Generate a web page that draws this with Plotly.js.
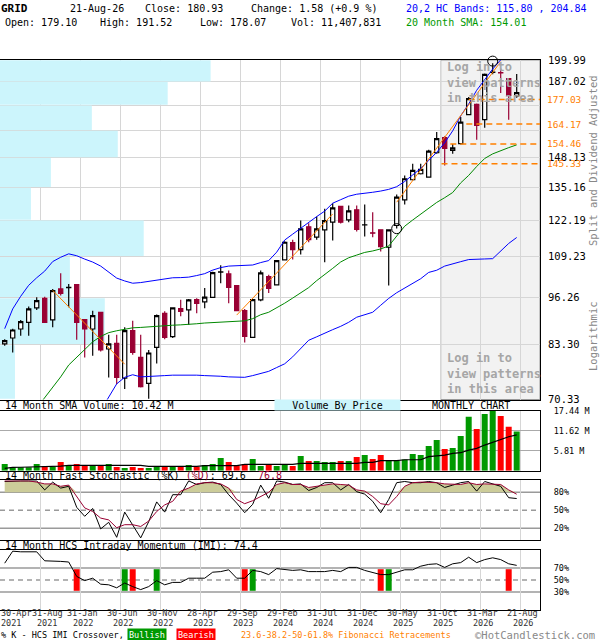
<!DOCTYPE html>
<html><head><meta charset="utf-8">
<script src="https://cdn.plot.ly/plotly-3.0.1.min.js"></script>
<style>html,body{margin:0;padding:0;background:#fff}#chart{width:600px;height:640px}</style>
</head><body><div id="chart"></div>
<script>
// ---------- DATA ----------
const monthIndex = Array.from({length: 65}, (_, i) => i); // Apr-2021 ... Aug-2026
const open = [83.44,84.99,87.38,89.18,93.23,96.03,89.84,98.85,99.25,100.18,
  89.92,87.38,91.97,82.16,83.59,75.13,86.92,80.06,73.89,82.56,
  91.69,85.34,93.03,92.65,95.64,94.96,96.33,104.10,103.53,99.87,
  92.45,85.15,95.55,102.68,100.09,108.10,114.01,111.58,119.68,115.90,
  118.57,121.38,127.41,122.28,126.10,120.35,117.48,118.57,112.38,120.16,
  130.05,138.32,140.91,139.44,150.33,157.45,151.39,154.57,169.03,174.48,
  166.43,192.56,192.40,188.86,179.10];
const high = [84.68,87.46,89.84,93.61,96.33,96.53,98.85,103.72,100.39,100.30,
  90.00,92.45,92.00,85.86,85.86,87.82,89.64,85.86,81.90,91.33,
  92.25,93.40,95.64,95.85,96.06,99.15,104.20,106.32,104.58,100.00,
  92.94,95.70,104.58,103.22,107.95,114.47,114.96,122.01,121.01,123.54,
  126.50,128.71,127.69,127.80,127.80,128.19,125.18,118.65,118.65,132.21,
  140.18,145.33,145.33,151.72,160.20,158.10,154.46,167.78,178.45,174.86,
  191.80,198.00,194.77,189.00,191.52];
const low = [83.00,81.30,85.60,85.60,92.65,89.00,87.82,96.83,93.40,84.54,
  80.06,80.48,81.55,75.27,73.75,72.62,80.73,73.00,70.49,78.59,
  84.65,84.99,90.85,88.55,91.69,93.12,96.20,100.58,94.56,92.30,
  83.84,85.00,95.20,97.64,99.95,107.86,108.20,109.88,114.12,114.96,
  107.30,114.71,120.90,121.38,117.95,116.15,115.90,110.89,99.87,119.05,
  128.19,138.02,140.61,139.18,149.87,144.57,149.90,154.24,168.66,156.48,
  162.39,191.39,180.67,166.43,178.07];
const close = [84.28,87.11,89.37,92.94,95.34,89.18,98.33,97.52,99.34,89.18,
  87.38,91.05,81.90,83.44,75.27,86.92,81.30,73.14,81.15,91.05,
  85.15,93.23,92.25,95.55,94.56,96.36,103.95,104.17,99.35,92.45,
  85.42,95.64,103.85,99.04,107.86,114.12,111.58,118.94,115.07,118.94,
  122.01,126.89,121.38,125.71,118.68,120.42,117.34,112.62,118.57,131.11,
  138.75,142.34,142.79,151.07,156.97,152.34,152.60,165.21,177.57,163.55,
  191.39,192.74,192.17,179.35,180.93];
const upperBand = [87.46,92.94,96.63,99.96,102.3,104.42,107.53,108.97,110.12,109.48,
  108.36,107.37,106.05,104.1,102.2,101.3,100.6,100.8,101.2,101.5,
  102.0,102.3,102.35,102.5,103.0,103.6,104.74,105.56,106.05,106.21,
  106.2,106.4,107.2,107.86,110.7,114.9,117.0,119.2,121.2,123.5,
  125.6,128.7,130.1,131.5,132.3,132.6,133.1,133.6,134.3,135.4,
  137.6,140.4,143.2,146.8,150.5,155.0,160.8,168.4,174.7,182.2,
  188.4,194.5,200.1,203.0,204.84];
const lowerBand = [null,null,null,null,null,null,null,null,null,null,
  null,null,68.0,70.8,73.8,75.3,75.9,75.4,75.55,75.7,
  75.7,75.8,75.85,75.85,75.8,75.7,75.7,75.55,75.4,75.3,
  75.3,75.7,76.2,76.7,77.6,78.5,80.2,82.2,84.4,85.3,
  86.3,87.2,88.1,89.2,90.6,91.3,92.0,94.0,96.0,97.7,
  99.2,100.6,102.0,104.0,104.7,106.05,106.9,107.5,108.2,108.4,
  108.4,108.5,111.1,113.7,115.80];
const sma20 = [null,null,null,null,68.5,70.71,72.8,75.4,78.2,80.1,
  82.2,84.0,85.4,86.4,86.9,87.4,87.7,87.8,88.0,88.2,
  88.3,88.4,88.5,88.55,88.8,89.0,89.1,89.3,89.4,89.5,
  89.6,90.2,91.3,92.0,93.2,94.6,96.1,97.7,99.25,101.4,
  103.2,105.3,107.4,108.8,109.7,110.6,111.1,111.8,112.8,116.5,
  119.9,122.2,124.5,126.9,129.0,130.9,133.0,137.0,140.2,144.1,
  147.7,149.8,151.4,152.7,154.01];
const volumeM = [1.94,0.97,0.97,0.97,1.94,1.36,1.16,2.52,1.65,1.94,
  1.55,1.55,1.55,1.94,1.07,0.77,1.07,0.77,0.77,1.16,
  1.16,1.16,1.16,1.65,1.16,1.65,1.94,3.68,2.52,1.55,
  1.94,3.39,1.36,1.74,1.36,1.74,1.36,4.26,2.81,2.81,
  2.52,2.52,2.81,2.81,3.97,4.55,3.39,4.55,2.90,2.90,
  3.29,4.84,4.55,7.17,8.91,6.29,6.58,10.07,15.69,12.10,
  16.46,17.40,15.88,12.78,11.41];
const volumeSmaM = [0.68,0.97,1.00,1.05,1.10,1.16,1.25,1.35,1.55,1.55,
  1.55,1.55,1.55,1.55,1.55,1.55,1.55,1.55,1.26,1.26,
  1.26,1.26,1.26,1.26,1.26,1.50,1.50,1.50,1.50,1.50,
  1.84,1.84,1.84,1.84,1.84,1.84,1.84,2.13,2.13,2.13,
  2.13,2.13,2.13,2.13,2.13,2.42,2.42,2.90,2.90,2.90,
  3.19,3.19,3.19,4.07,4.30,4.55,5.03,5.23,6.00,6.49,
  7.45,8.23,9.10,9.87,10.42];
const stochK = [98,99,99,99,99,84,97,87,90,55,
  40,53,19,30,5,47,26,4,31,64,
  47,76,76,99,93,96,97,93,76,62,
  46,60,92,70,99,97,93,94,83,88,
  96,96,84,93,81,77,65,46,68,96,
  98,96,96,98,96,88,92,96,98,82,
  98,94,90,71,69.6];
const stochD = [99,99,99,99,97,94,94,90,92,73,
  54,48,37,34,21,26,26,23,32,48,
  59,65,82,87,94,96,96,94,87,68,
  61,66,73,80,93,96,93,93,88,90,
  92,94,93,92,84,82,73,61,59,73,
  90,96,97,97,96,94,93,93,96,93,
  94,94,93,84,76.8];
const imi = [78,98,97,97,97,82,82,81,80,56,
  49,53,43,42,37,45,39,34,39,49,
  42,46,46,53,53,53,63,64,67,53,
  53,66,64,59,69,67,66,67,64,64,
  64,66,64,71,71,66,62,59,59,63,
  67,67,73,76,77,71,77,79,88,79,
  84,87,84,77,74.4];
const crossIdx  = [9,15,16,19,30,31,47,48,63];
const crossType = ['Bearish','Bullish','Bearish','Bullish','Bearish','Bullish','Bearish','Bullish','Bearish'];
const priceTicks = [70.33,83.30,96.26,109.23,122.19,135.16,148.13,161.08,174.05,187.02,199.99];
const priceTickText = ['70.33','83.30','96.26','109.23','122.19','135.16','148.13','','','187.02','199.99'];
const vbpVolume = [15,105,70,144,31,51,118,92,168,211]; // relative volume per price bucket (bottom→top)
const fibLevels = [177.03,164.17,154.46,145.33];
const fibStart  = [58,57.7,55.7,54.6];
const trendX0 = [6,29,49], trendY0 = [98.4,91.2,129.1];
const trendX1 = [15,41,62], trendY1 = [78.4,124.5,199.0];
const circleIdx = [49,61], circlePrice = [119.0,199.3];
const patternStart = 54.5;
const dateLabelIdx = [0,4,9,14,19,24,29,34,39,44,49,54,59,64];
const dateMonths = ['30-Apr','31-Aug','31-Jan','30-Jun','30-Nov','28-Apr','29-Sep','29-Feb','31-Jul','31-Dec',
  '30-May','31-Oct','31-Mar','21-Aug'];
const dateYears = ['2021','2021','2022','2022','2022','2023','2023','2024','2024','2024','2025','2025','2026','2026'];
const volTicks = [5.81,11.62,17.44];
const stochLevels = [20,50,80];
const imiLevels = [30,50,70];

// ---------- STYLE / LAYOUT HELPERS ----------
const FONT = 'DejaVu Sans Mono';
const PX = x => x / 540;          // page px -> paper x
const PY = y => 1 - y / 640;      // page px -> paper y
const L10 = Math.log10;
const xRange = [-0.5875, 66.9125];
const gridPos = dateLabelIdx.slice(1).map(i => i + 0.5);
const RED = '#990033', ORANGE = '#ff8000';
const MAIN = 'y5'; // visible log price axis (overlays the hidden base axis that holds volume-by-price)

const traces = [];
// volume-by-price: horizontal bars on the base main subplot (log10-space y), drawn beneath the price overlay
const vMax = Math.max(...vbpVolume);
const xSpan = xRange[1] - xRange[0];
traces.push({type:'bar', orientation:'h',
  y: vbpVolume.map((v, k) => (L10(priceTicks[k]) + L10(priceTicks[k+1])) / 2),
  width: vbpVolume.map((v, k) => (L10(priceTicks[k+1]) - L10(priceTicks[k])) * 0.975),
  x: vbpVolume.map(v => v / vMax * 0.39 * xSpan), base: xRange[0],
  marker:{color:'#ccf5fc', line:{width:0}}, xaxis:'x', yaxis:'y', hoverinfo:'skip'});
// price overlay
traces.push({type:'candlestick', x: monthIndex, open, high, low, close, xaxis:'x', yaxis:MAIN,
  increasing:{line:{color:'#000', width:1.2}, fillcolor:'#ffffff'},
  decreasing:{line:{color:RED, width:1.2}, fillcolor:RED}, whiskerwidth:0, hoverinfo:'skip'});
traces.push({type:'scatter', mode:'lines', x: monthIndex, y: upperBand, line:{color:'#0000ff', width:1}, xaxis:'x', yaxis:MAIN});
traces.push({type:'scatter', mode:'lines', x: monthIndex, y: lowerBand, line:{color:'#0000ff', width:1}, xaxis:'x', yaxis:MAIN});
traces.push({type:'scatter', mode:'lines', x: monthIndex, y: sma20, line:{color:'#008800', width:1}, xaxis:'x', yaxis:MAIN});
for (let k = 0; k < trendX0.length; k++) {
  traces.push({type:'scatter', mode:'lines', x:[trendX0[k], trendX1[k]], y:[trendY0[k], trendY1[k]],
    line:{color:ORANGE, width:1}, xaxis:'x', yaxis:MAIN});
}
for (let k = 0; k < fibLevels.length; k++) {
  traces.push({type:'scatter', mode:'lines', x:[fibStart[k], xRange[1]], y:[fibLevels[k], fibLevels[k]],
    line:{color:ORANGE, width:1.5, dash:'6px,4px'}, xaxis:'x', yaxis:MAIN});
}
traces.push({type:'scatter', mode:'markers', x: circleIdx, y: circlePrice, cliponaxis:false,
  marker:{symbol:'circle-open', size:10, color:'#000', line:{width:1, color:'#000'}}, xaxis:'x', yaxis:MAIN});

// volume panel
const volColors = close.map((c, i) => (i === 0 || c >= close[i-1]) ? '#009900' : '#ff0000');
traces.push({type:'bar', x: monthIndex, y: volumeM, marker:{color: volColors, line:{width:0}}, width:0.75, xaxis:'x2', yaxis:'y2'});
traces.push({type:'scatter', mode:'lines', x: monthIndex, y: volumeSmaM, line:{color:'#000', width:1.2}, xaxis:'x2', yaxis:'y2'});

// stochastic panel
traces.push({type:'scatter', mode:'lines', x: monthIndex, y: monthIndex.map(() => 80), line:{width:0}, xaxis:'x3', yaxis:'y3'});
traces.push({type:'scatter', mode:'lines', x: monthIndex, y: stochD.map(v => Math.max(v, 80)), fill:'tonexty',
  fillcolor:'rgb(204,204,153)', line:{width:0}, xaxis:'x3', yaxis:'y3'});
traces.push({type:'scatter', mode:'lines', x: monthIndex, y: stochK, line:{color:'#000', width:1}, xaxis:'x3', yaxis:'y3'});
traces.push({type:'scatter', mode:'lines', x: monthIndex, y: stochD, line:{color:RED, width:1}, xaxis:'x3', yaxis:'y3'});

// IMI panel
traces.push({type:'bar', x: crossIdx, y: crossIdx.map(() => 36), base: 32, width:0.75,
  marker:{color: crossType.map(t => t === 'Bullish' ? '#009900' : '#ff0000'), line:{width:0}}, xaxis:'x4', yaxis:'y4'});
traces.push({type:'scatter', mode:'lines', x: monthIndex, y: imi, line:{color:'#000', width:1}, xaxis:'x4', yaxis:'y4'});

// ---------- AXES ----------
function xAxis(anchor) {
  return {domain:[0,1], range: xRange, anchor, tickvals: gridPos, showticklabels:false, ticks:'',
    showgrid:true, gridcolor:'#d6d6d6', gridwidth:1, zeroline:false, showline:true, mirror:true,
    linecolor:'#000', linewidth:1, fixedrange:true, rangeslider:{visible:false}};
}
function yAxis(anchor, domain, extra) {
  return Object.assign({domain, anchor, side:'right', ticks:'', zeroline:false, showline:true, mirror:true,
    linecolor:'#000', linewidth:1, fixedrange:true, ticklabelstandoff:11,
    tickfont:{family:FONT, size:8.5, color:'#000'}}, extra);
}
const mainDomain = [PY(399.5), PY(60)];
const layout = {
  width:600, height:640, margin:{l:0, r:60, t:0, b:0}, paper_bgcolor:'#fff', plot_bgcolor:'#fff',
  showlegend:false, boxgap:0.25, barmode:'overlay', font:{family:FONT, size:10, color:'#000'},
  xaxis: xAxis('y'), xaxis2: xAxis('y2'), xaxis3: xAxis('y3'), xaxis4: xAxis('y4'),
  yaxis: yAxis('x', mainDomain, {type:'linear', range:[L10(70.33), L10(199.99)], showticklabels:false, showgrid:false}),
  yaxis5: {overlaying:'y', anchor:'x', side:'right', type:'log', range:[L10(70.33), L10(199.99)],
    tickvals: priceTicks, ticktext: priceTickText, showgrid:true, gridcolor:'#d6d6d6', ticks:'', zeroline:false,
    showline:false, fixedrange:true, ticklabelstandoff:7, tickfont:{family:FONT, size:10.5, color:'#000'}},
  yaxis2: yAxis('x2', [PY(470.7), PY(410.7)], {range:[0,17.44], tickvals: volTicks,
    ticktext: volTicks.map(v => v.toFixed(2) + ' M'), showgrid:true, gridcolor:'#aaaaaa'}),
  yaxis3: yAxis('x3', [PY(540.3), PY(480.3)], {range:[0,100], tickvals: stochLevels,
    ticktext: stochLevels.map(v => v + '%'), showgrid:false}),
  yaxis4: yAxis('x4', [PY(610), PY(550)], {range:[0,100], tickvals: imiLevels,
    ticktext: imiLevels.map(v => v + '%'), showgrid:false}),
  shapes: [], annotations: []
};

// pattern (login) area
layout.shapes.push({type:'rect', layer:'below', xref:'x', yref:'paper', x0: patternStart, x1: xRange[1],
  y0: mainDomain[0], y1: mainDomain[1], fillcolor:'#f2f2f2', line:{color:'#999', width:1}});
// stoch & IMI reference lines
stochLevels.forEach(v => layout.shapes.push({type:'line', layer:'below', xref:'paper', yref:'y3', x0:0, x1:1, y0:v, y1:v,
  line:{color:'#9a9a9a', width:1.5, dash: v === 50 ? '5px,4px' : 'solid'}}));
imiLevels.forEach(v => layout.shapes.push({type:'line', layer:'below', xref:'paper', yref:'y4', x0:0, x1:1, y0:v, y1:v,
  line:{color:'#9a9a9a', width:1.5, dash: v === 50 ? '5px,4px' : 'solid'}}));

// ---------- TEXT ----------
const A = layout.annotations;
function txt(text, x, y, opts) {
  A.push(Object.assign({text, x: PX(x), y: PY(y), xref:'paper', yref:'paper', xanchor:'left', yanchor:'middle',
    showarrow:false, font:{family:FONT, size:10, color:'#000'}}, opts || {}));
}
txt('<b>GRID</b>', -1, 9, {font:{family:FONT, size:11, color:'#000'}});
txt('21-Aug-26', 68, 9);
txt('Close: 180.93', 143, 9);
txt('Change: 1.58 (+0.9 %)', 249, 9);
txt('20,2 HC Bands: 115.80 , 204.84', 404, 9, {font:{family:FONT, size:10, color:'#0000ff'}});
txt('Open: 179.10', 3, 23);
txt('High: 191.52', 98, 23);
txt('Low: 178.07', 198, 23);
txt('Vol: 11,407,831', 289, 23);
txt('20 Month SMA: 154.01', 404, 23, {font:{family:FONT, size:10, color:'#009900'}});

txt('Split and Dividend Adjusted', 593, 161, {textangle:-90, xanchor:'center', font:{family:FONT, size:10.5, color:'#888'}});
txt('Logarithmic', 593, 336, {textangle:-90, xanchor:'center', font:{family:FONT, size:10.5, color:'#888'}});

txt('<b>Log in to<br>view patterns<br>in this area</b>', 445, 82.5, {align:'left', font:{family:FONT, size:12, color:'#a6a6a6'}});
txt('<b>Log in to<br>view patterns<br>in this area</b>', 445, 373, {align:'left', font:{family:FONT, size:12, color:'#a6a6a6'}});

fibLevels.forEach(v => A.push({text: v.toFixed(2), x: PX(545), xref:'paper', y: L10(v), yref:'y', xanchor:'left', yanchor:'middle',
  showarrow:false, font:{family:FONT, size:9.5, color:ORANGE}}));

txt('14 Month SMA Volume: 10.42 M', 3, 405.3);
txt('Volume By Price', 337.5, 405.3, {xanchor:'center', bgcolor:'#ccf5fc', width:125, height:10, borderpad:0});
txt('MONTHLY CHART', 471, 405.3, {xanchor:'center'});
txt('14 Month Fast Stochastic (%K) <span style="color:#990033">(%D)</span>: 69.6  <span style="color:#990033">76.8</span>', 3, 475.7);
txt('14 Month HCS Intraday Momentum (IMI): 74.4', 3, 545.3);

const dateFont = {family:FONT, size:8.5, color:'#333'};
dateLabelIdx.forEach((idx, k) => {
  [[dateMonths[k], 613], [dateYears[k], 623]].forEach(([t, yy]) => {
    if (k === 0) {
      txt(t, -1, yy, {font: dateFont});
    } else {
      const shift = k === 1 ? 0.8 : 0.25;
      A.push({text: t, x: idx + 0.5 + shift, xref:'x4', y: PY(yy), yref:'paper', xanchor:'center', yanchor:'middle',
        showarrow:false, font: dateFont});
    }
  });
});

txt('% K - HCS IMI Crossover,', -1, 634.5, {font:{family:FONT, size:8.5, color:'#000'}});
txt('Bullish', 127, 634.5, {bgcolor:'#009900', borderpad:1, font:{family:FONT, size:8.5, color:'#fff'}});
txt('Bearish', 176, 634.5, {bgcolor:'#ff0000', borderpad:1, font:{family:FONT, size:8.5, color:'#fff'}});
txt('23.6-38.2-50-61.8% Fibonacci Retracements', 239, 634.5, {font:{family:FONT, size:8.5, color:ORANGE}});
txt('©HotCandlestick.com', 597, 634.8, {xanchor:'right', font:{family:FONT, size:10.5, color:'#888'}});

Plotly.newPlot('chart', traces, layout, {displayModeBar:false, staticPlot:true});
</script>
</body></html>
